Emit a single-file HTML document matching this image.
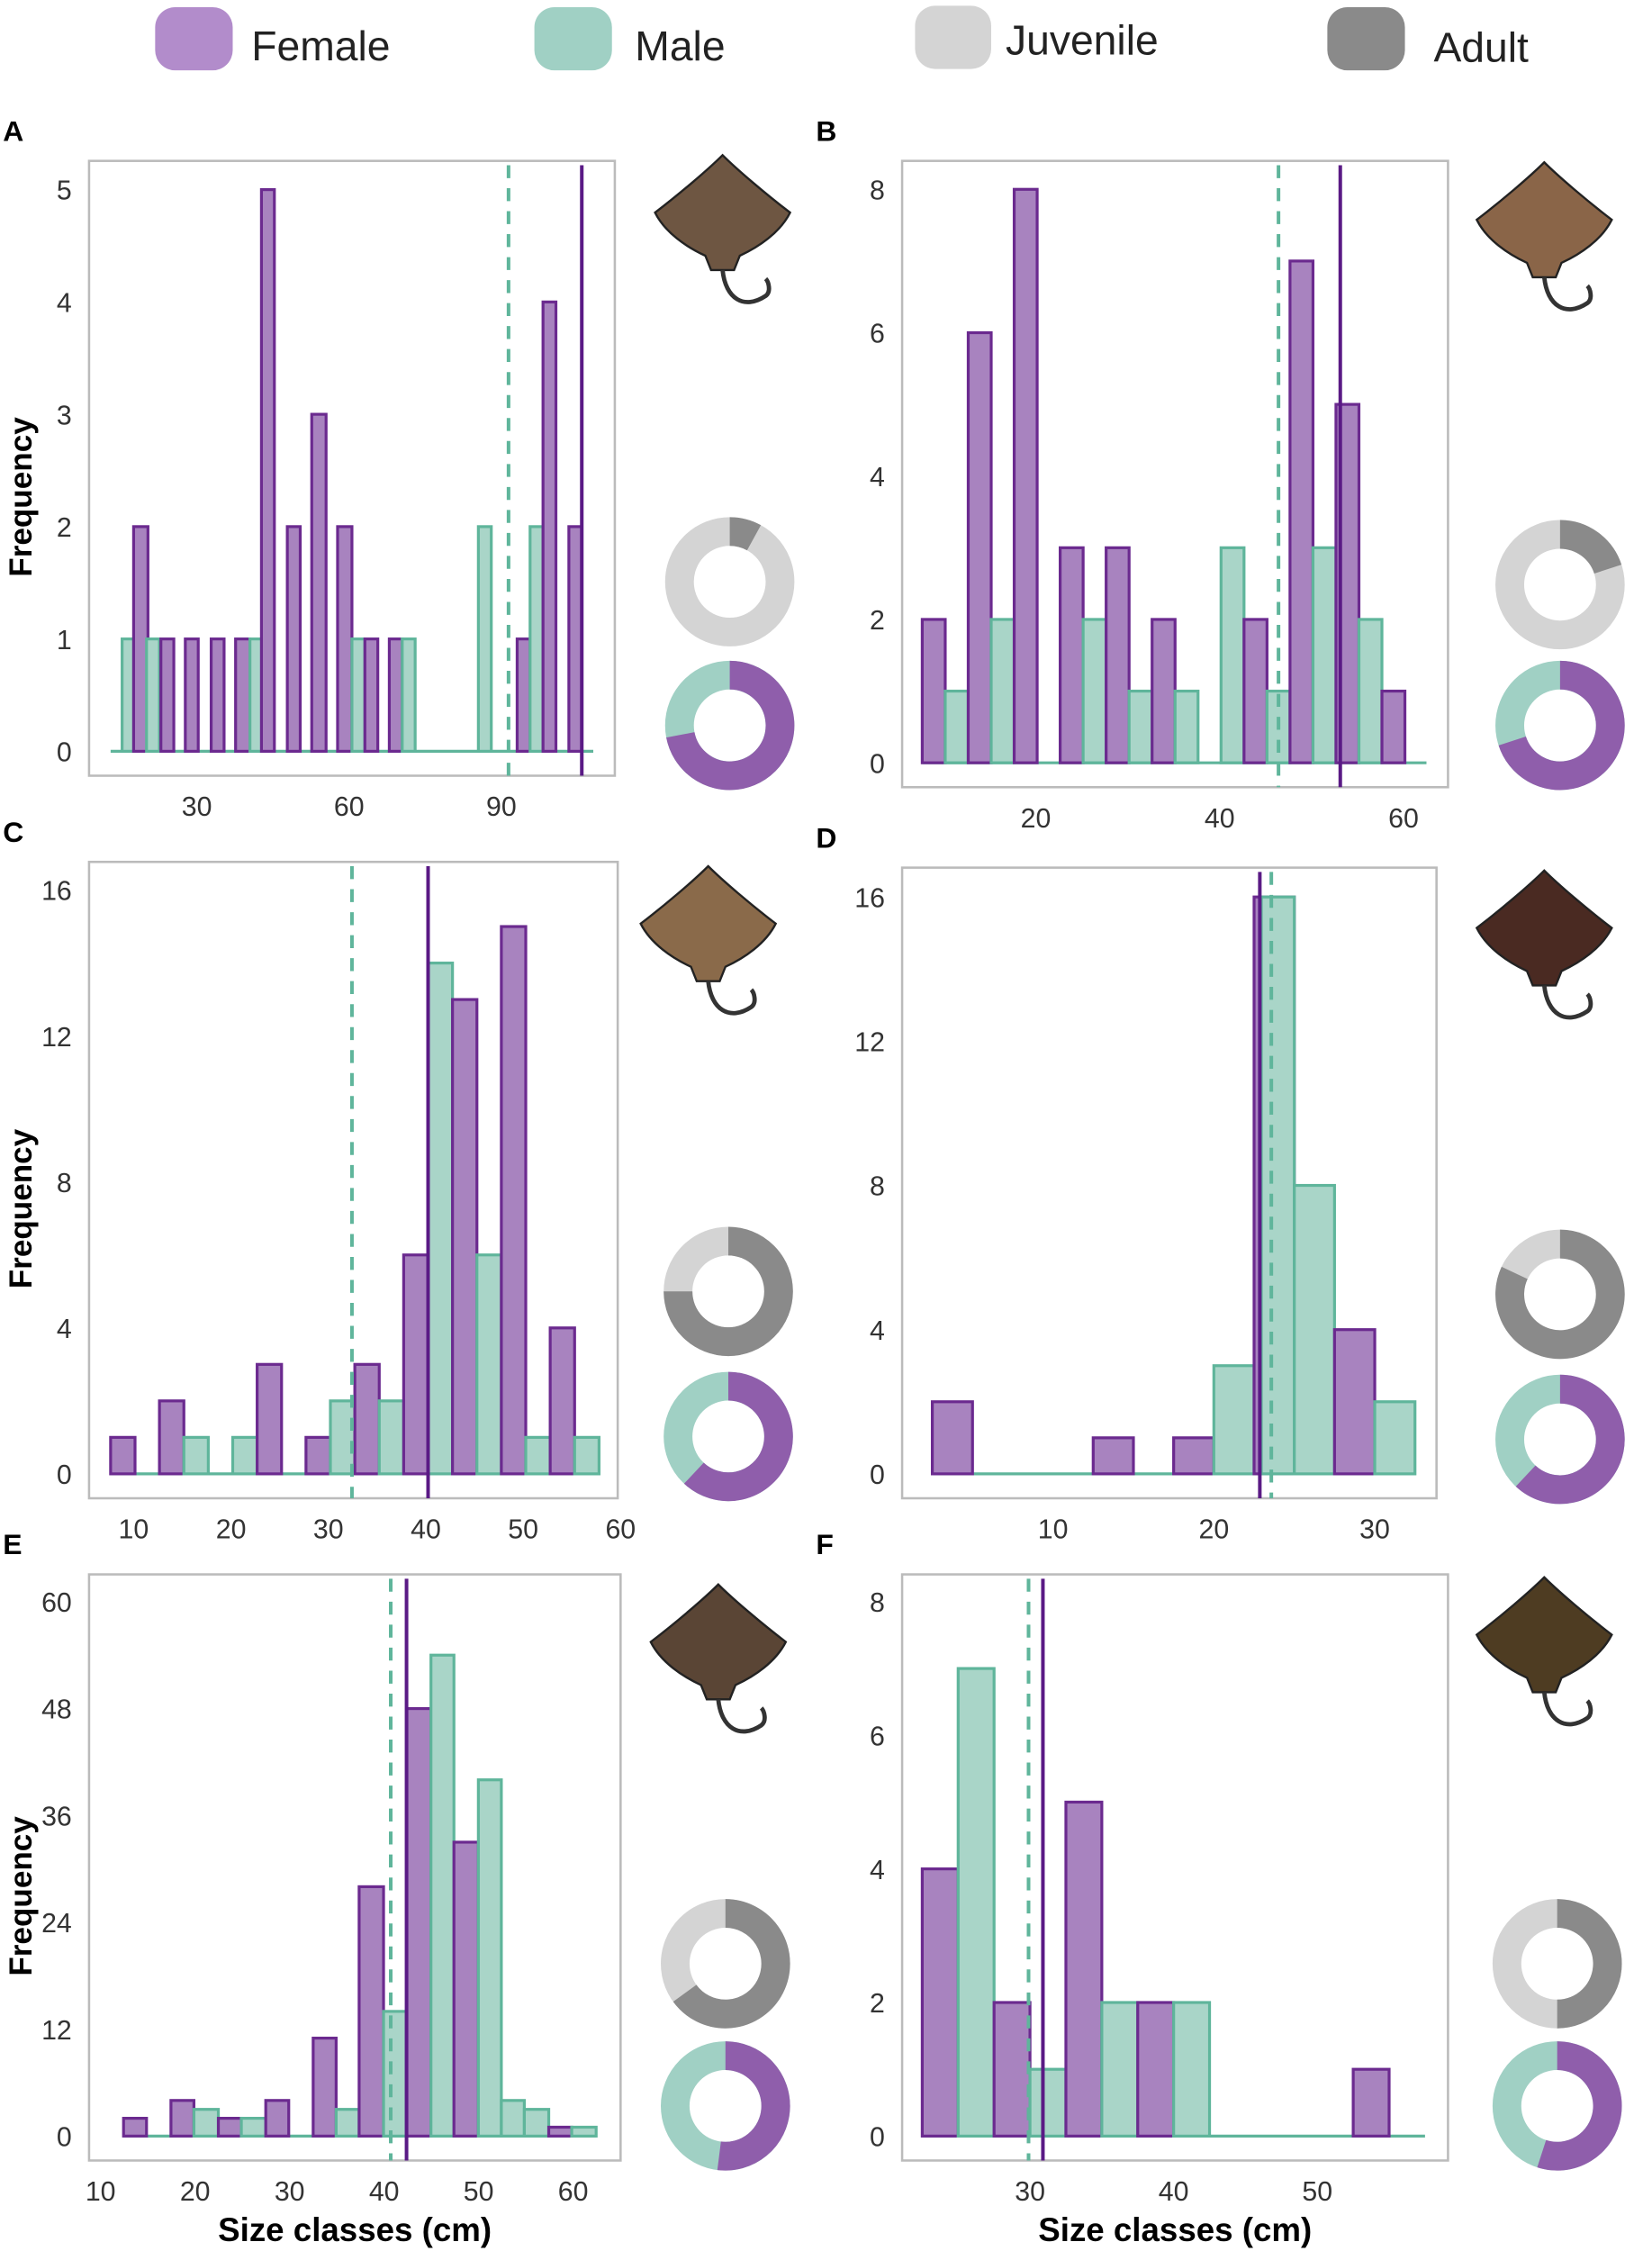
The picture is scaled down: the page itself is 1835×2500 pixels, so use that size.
<!DOCTYPE html>
<html><head><meta charset="utf-8"><style>
html,body{margin:0;padding:0;background:#fff}
svg{display:block}
text{font-family:"Liberation Sans","DejaVu Sans",sans-serif}
</style></head><body>
<svg id="s" width="1835" height="2500" viewBox="0 0 1150 1567" preserveAspectRatio="none" xmlns="http://www.w3.org/2000/svg">
<rect width="1150" height="1567" fill="#fff"/>
<g font-size="29" fill="#222">
<rect x="108" y="5" width="54" height="44" rx="14" fill="#b28ccb"/><text x="175" y="42">Female</text>
<rect x="372" y="5" width="54" height="44" rx="14" fill="#a0d0c4"/><text x="442" y="42">Male</text>
<rect x="637" y="4" width="53" height="44" rx="14" fill="#d4d4d4"/><text x="700" y="38">Juvenile</text>
<rect x="924" y="5" width="54" height="44" rx="14" fill="#8a8a8a"/><text x="998" y="43">Adult</text>
</g>
<g id="g"></g>
</svg>
<script>
const F={fill:"#a883bf",st:"#6b2a8f"},M={fill:"#a9d5c8",st:"#5fb59b"};
let o="";
function panel(p){
 const [L,T,R,B]=p.box;
 o+=`<rect x="${L}" y="${T}" width="${R-L}" height="${B-T}" fill="none" stroke="#bbb" stroke-width="1.6"/>`;
 o+=`<text x="${L-60}" y="${T-14}" font-size="20" font-weight="bold">${p.lab}</text>`;
 const y=v=>p.y0-v*p.yu, x=v=>p.x0+(v-p.xv0)*p.xu;
 p.yt.forEach(v=>o+=`<text x="${L-12}" y="${y(v)+7}" font-size="19" text-anchor="end" fill="#333">${v}</text>`);
 p.xt.forEach(v=>o+=`<text x="${x(v)}" y="${B+28}" font-size="19" text-anchor="middle" fill="#333">${v}</text>`);
 o+=`<line x1="${p.bl[0]}" x2="${p.bl[1]}" y1="${p.y0}" y2="${p.y0}" stroke="${M.st}" stroke-width="2"/>`;
 p.bars.forEach(b=>{const c=b[3]?M:F;const h=b[2]*p.yu;
  if(h>0)o+=`<rect x="${b[0]}" y="${p.y0-h}" width="${b[1]-b[0]}" height="${h}" fill="${c.fill}" stroke="${c.st}" stroke-width="2"/>`;});
 o+=`<line x1="${p.dash}" x2="${p.dash}" y1="${T+3}" y2="${B}" stroke="#5fb59b" stroke-width="2.5" stroke-dasharray="9,7"/>`;
 o+=`<line x1="${p.sol}" x2="${p.sol}" y1="${T+3}" y2="${B}" stroke="#5a1a85" stroke-width="2.5"/>`;
 if(p.ylab)o+=`<text transform="translate(${L-40},${(T+B)/2+20}) rotate(-90)" font-size="22" font-weight="bold" text-anchor="middle">Frequency</text>`;
 if(p.xlab)o+=`<text x="${(L+R)/2}" y="${B+56}" font-size="23" font-weight="bold" text-anchor="middle">Size classes (cm)</text>`;
 donut(p.d[0],p.d[1],p.ad,"#8a8a8a","#d4d4d4");
 donut(p.d[0],p.d[2],p.fe,"#8f5eab","#a0d0c4");
 fish(p.f[0],p.f[1],p.fc);
}
function donut(cx,cy,f,c1,c2){
 const r=35,w=20;
 o+=`<circle cx="${cx}" cy="${cy}" r="${r}" fill="none" stroke="${c2}" stroke-width="${w}"/>`;
 const a=f*2*Math.PI,x2=cx+r*Math.sin(a),y2=cy-r*Math.cos(a);
 o+=`<path d="M${cx},${cy-r} A${r},${r} 0 ${f>0.5?1:0} 1 ${x2},${y2}" fill="none" stroke="${c1}" stroke-width="${w}"/>`;
}
function fish(cx,cy,c){
 o+=`<g transform="translate(${cx},${cy})"><path d="M0,-42 C10,-32 30,-15 47,-2 C40,12 25,22 12,28 L8,38 L-8,38 L-12,28 C-25,22 -40,12 -47,-2 C-30,-15 -10,-32 0,-42Z" fill="${c}" stroke="#222" stroke-width="1.5"/>
 <path d="M0,38 C2,58 15,66 30,56 C34,53 32,46 30,44" fill="none" stroke="#333" stroke-width="3"/></g>`;
}
const P=[
{lab:"A",box:[62,112,428,540],y0:523,yu:78.2,yt:[0,1,2,3,4,5],x0:137,xv0:30,xu:3.533,xt:[30,60,90],bl:[77,413],
 bars:[[85,94,1,1],[93,103,2],[102,111,1,1],[112,121,1],[129,138,1],[147,156,1],[164,174,1],[174,183,1,1],[182,191,5],[200,209,2],[217,227,3],[235,245,2],[245,254,1,1],[254,263,1],[271,280,1],[280,289,1,1],[333,342,2,1],[360,369,1],[369,378,2,1],[378,387,4],[396,405,2]],
 dash:354,sol:405,ylab:1,d:[508,405,505],ad:0.08,fe:0.72,f:[503,150],fc:"#6e5642"},
{lab:"B",box:[628,112,1008,548],y0:531,yu:49.9,yt:[0,2,4,6,8],x0:721,xv0:20,xu:6.4,xt:[20,40,60],bl:[642,993],
 bars:[[642,658,2],[658,674,1,1],[674,690,6],[690,706,2,1],[706,722,8],[738,754,3],[754,770,2,1],[770,786,3],[786,802,1,1],[802,818,2],[818,834,1,1],[850,866,3,1],[866,882,2],[882,898,1,1],[898,914,7],[914,930,3,1],[930,946,5],[946,962,2,1],[962,978,1]],
 dash:890,sol:933,d:[1086,407,505],ad:0.2,fe:0.7,f:[1075,155],fc:"#8a6548"},
{lab:"C",box:[62,600,430,1043],y0:1026,yu:25.4,yt:[0,4,8,12,16],x0:93,xv0:10,xu:6.78,xt:[10,20,30,40,50,60],bl:[77,417],
 bars:[[77,94,1],[111,128,2],[128,145,1,1],[162,179,1,1],[179,196,3],[213,230,1],[230,247,2,1],[247,264,3],[264,281,2,1],[281,298,6],[298,315,14,1],[315,332,13],[332,349,6,1],[349,366,15],[366,383,1,1],[383,400,4],[400,417,1,1]],
 dash:245,sol:298,ylab:1,d:[507,899,1000],ad:0.75,fe:0.62,f:[493,645],fc:"#8a6a4a"},
{lab:"D",box:[628,604,1000,1043],y0:1026,yu:25.1,yt:[0,4,8,12,16],x0:733,xv0:10,xu:11.2,xt:[10,20,30],bl:[649,985],
 bars:[[649,677,2],[761,789,1],[817,845,1],[845,873,3,1],[873,901,16],[878,901,16,1],[901,929,8,1],[929,957,4],[957,985,2,1]],
 dash:885,sol:877,d:[1086,901,1002],ad:0.82,fe:0.62,f:[1075,648],fc:"#4a2a22"},
{lab:"E",box:[62,1096,432,1504],y0:1487,yu:6.2,yt:[0,12,24,36,48,60],x0:70,xv0:10,xu:6.58,xt:[10,20,30,40,50,60],bl:[86,415],
 bars:[[86,102,2],[119,135,4],[135,152,3,1],[152,168,2],[168,185,2,1],[185,201,4],[218,234,11],[234,250,3,1],[250,267,28],[267,283,14,1],[283,300,48],[300,316,54,1],[316,333,33],[333,349,40,1],[349,365,4,1],[365,382,3,1],[382,398,1],[398,415,1,1]],
 dash:272,sol:283,ylab:1,xlab:1,d:[505,1367,1466],ad:0.65,fe:0.52,f:[500,1145],fc:"#5a4535"},
{lab:"F",box:[628,1096,1008,1504],y0:1487,yu:46.5,yt:[0,2,4,6,8],x0:717,xv0:30,xu:10,xt:[30,40,50],bl:[642,992],
 bars:[[642,667,4],[667,692,7,1],[692,717,2],[717,742,1,1],[742,767,5],[767,792,2,1],[792,817,2],[817,842,2,1],[942,967,1]],
 dash:716,sol:726,xlab:1,d:[1084,1367,1466],ad:0.5,fe:0.55,f:[1075,1140],fc:"#4e3c22"}
];
P.forEach(panel);
document.getElementById("g").innerHTML=o;
</script>
</body></html>
